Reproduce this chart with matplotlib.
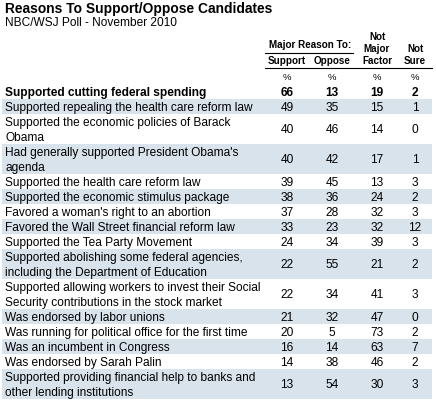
import matplotlib.pyplot as plt
import numpy as np

plt.rcParams["font.family"] = ["Liberation Sans", "DejaVu Sans"]

title = "Reasons To Support/Oppose Candidates"
subtitle = "NBC/WSJ Poll - November 2010"

labels = [
    "Supported cutting federal spending",
    "Supported repealing the health care reform law",
    "Supported the economic policies of Barack\nObama",
    "Had generally supported President Obama's\nagenda",
    "Supported the health care reform law",
    "Supported the economic stimulus package",
    "Favored a woman's right to an abortion",
    "Favored the Wall Street financial reform law",
    "Supported the Tea Party Movement",
    "Supported abolishing some federal agencies,\nincluding the Department of Education",
    "Supported allowing workers to invest their Social\nSecurity contributions in the stock market",
    "Was endorsed by labor unions",
    "Was running for political office for the first time",
    "Was an incumbent in Congress",
    "Was endorsed by Sarah Palin",
    "Supported providing financial help to banks and\nother lending institutions",
]
support = [66, 49, 40, 40, 39, 38, 37, 33, 24, 22, 22, 21, 20, 16, 14, 13]
oppose = [13, 35, 46, 42, 45, 36, 28, 23, 34, 55, 34, 32, 5, 14, 38, 54]
not_major = [19, 15, 14, 17, 13, 24, 32, 32, 39, 21, 41, 47, 73, 63, 46, 30]
not_sure = [2, 1, 0, 1, 3, 2, 3, 12, 3, 2, 3, 0, 2, 7, 2, 3]

columns = [support, oppose, not_major, not_sure]
col_x = [287, 332, 377, 415]
band_color = "#d9e3ec"
line_h = 15

W, H = 436, 404
fig = plt.figure(figsize=(W / 100, H / 100), dpi=100)
ax = fig.add_axes([0, 0, 1, 1])
ax.set_xlim(0, W)
ax.set_ylim(H, 0)
ax.axis("off")

# title block
ax.text(5, 13, title, fontsize=9.9, fontweight="bold", va="baseline", ha="left")
ax.text(5, 26, subtitle, fontsize=8.6, va="baseline", ha="left")

# column headers (one text per line so the spacing matches)
hdr = dict(fontsize=7.1, fontweight="bold", ha="center", va="baseline")
ax.text(310, 48, "Major Reason To:", **hdr)
ax.plot([265, 353], [52.5, 52.5], color="black", lw=0.8)
ax.text(col_x[0], 64.3, "Support", **hdr)
ax.text(col_x[1], 64.3, "Oppose", **hdr)
ax.text(col_x[2], 40, "Not", **hdr)
ax.text(col_x[2], 52.5, "Major", **hdr)
ax.text(col_x[2], 64.3, "Factor", **hdr)
ax.text(col_x[3], 52.5, "Not", **hdr)
ax.text(col_x[3], 64.3, "Sure", **hdr)
ax.plot([265, 432], [67.7, 67.7], color="black", lw=0.8)
for x in col_x:
    ax.text(x, 80, "%", fontsize=6.8, ha="center", va="baseline")

# table rows
y = 84.3
for i, lab in enumerate(labels):
    lines = lab.split("\n")
    h = line_h * len(lines)
    yc = y + h / 2
    if i % 2 == 1:
        ax.barh(yc, 430, left=2, height=h, color=band_color, lw=0)
    weight = "bold" if i == 0 else "normal"
    for k, txt in enumerate(lines):
        yl = yc + (k - (len(lines) - 1) / 2) * line_h + 3.9
        ax.text(5, yl, txt, fontsize=8.6, fontweight=weight, ha="left",
                va="baseline")
    for x, vals in zip(col_x, columns):
        ax.text(x, yc + 3.9, str(vals[i]), fontsize=8.6, fontweight=weight,
                ha="center", va="baseline")
    y += h

fig.savefig("out.png", dpi=100)
